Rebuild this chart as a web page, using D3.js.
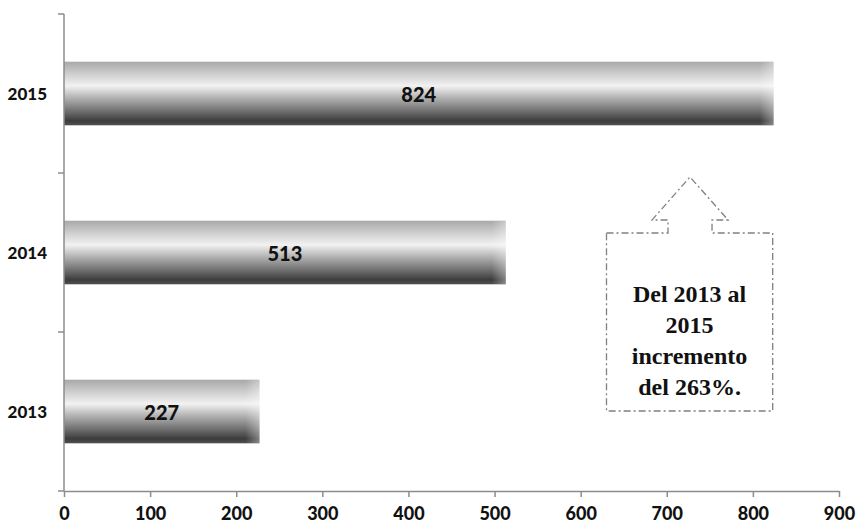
<!DOCTYPE html>
<html><head><meta charset="utf-8">
<script src="https://cdn.jsdelivr.net/npm/d3@7/dist/d3.min.js"></script>
<style>body{margin:0;background:#fff}svg{display:block}</style>
</head><body>
<svg id="c" width="859" height="524"></svg>
<script>
const categories = ["2015", "2014", "2013"];
const values = [824, 513, 227];
const xTicks = [0, 100, 200, 300, 400, 500, 600, 700, 800, 900];
const noteLines = ["Del 2013 al", "2015", "incremento", "del 263%."];

(function () {
const svg = d3.select("#c");
const pLeft = 64, pRight = 839, pTop = 14, pBottom = 491;
const x = d3.scaleLinear().domain([0, 900]).range([pLeft, pRight]);
const y = d3.scaleBand().domain(categories).range([pTop, pBottom]).paddingInner(0.6).paddingOuter(0.3);

const defs = svg.append("defs");
const g = defs.append("linearGradient").attr("id", "bg").attr("x1", 0).attr("y1", 0).attr("x2", 0).attr("y2", 1);
[[0, "#a8a8a8"], [0.12, "#c0c0c0"], [0.38, "#f2f2f2"], [0.55, "#b8b8b8"], [0.8, "#686868"], [0.93, "#3c3c3c"], [1, "#505050"]]
  .forEach(([o, c]) => g.append("stop").attr("offset", o).attr("stop-color", c));
const gh = defs.append("linearGradient").attr("id", "edge").attr("x1", 0).attr("y1", 0).attr("x2", 1).attr("y2", 0);
gh.append("stop").attr("offset", 0).attr("stop-color", "#fff").attr("stop-opacity", 0);
gh.append("stop").attr("offset", 1).attr("stop-color", "#fff").attr("stop-opacity", 0.35);

const font = "Lato, 'Open Sans', sans-serif";
// bars
const bars = svg.append("g");
categories.forEach((c, i) => {
  bars.append("rect").attr("x", x(0)).attr("y", y(c)).attr("width", x(values[i]) - x(0))
    .attr("height", y.bandwidth()).attr("fill", "url(#bg)");
  bars.append("rect").attr("x", x(values[i]) - 14).attr("y", y(c)).attr("width", 14)
    .attr("height", y.bandwidth()).attr("fill", "url(#edge)");
  bars.append("text").attr("x", (x(0) + x(values[i])) / 2).attr("y", y(c) + y.bandwidth() / 2)
    .attr("text-anchor", "middle").attr("dominant-baseline", "central")
    .attr("font-family", font).attr("font-weight", 900)
    .attr("font-size", 20).attr("fill", "#111").text(values[i]);
});

// axes
const xAxis = d3.axisBottom(x).tickValues(xTicks).tickSizeOuter(0).tickSizeInner(6).tickPadding(10);
const xa = svg.append("g").attr("transform", `translate(0,${pBottom})`).call(xAxis);
xa.selectAll("path,line").attr("stroke", "#8c8c8c").attr("stroke-width", 1.5);
xa.selectAll("text").attr("font-family", font).attr("font-weight", 900)
  .attr("font-size", 18).attr("fill", "#111");

const ya = svg.append("g");
ya.append("line").attr("x1", pLeft).attr("x2", pLeft).attr("y1", pTop).attr("y2", pBottom)
  .attr("stroke", "#8c8c8c").attr("stroke-width", 1.5);
const bounds = [pTop].concat(categories.map(c => y(c) + y.bandwidth() + y.step() * 0.3));
bounds.forEach(b => ya.append("line").attr("x1", pLeft - 6).attr("x2", pLeft).attr("y1", b).attr("y2", b)
  .attr("stroke", "#8c8c8c").attr("stroke-width", 1.5));
categories.forEach(c => ya.append("text").attr("x", pLeft - 17).attr("y", y(c) + y.bandwidth() / 2)
  .attr("text-anchor", "end").attr("dominant-baseline", "central")
  .attr("font-family", font).attr("font-weight", 900)
  .attr("font-size", 17).attr("fill", "#111").text(c));

// callout
const bx0 = x(630), bx1 = x(823), by0 = 233, by1 = 411, cx = x(727);
const path = d3.path();
path.moveTo(bx0, by0);
path.lineTo(cx - 22, by0); path.lineTo(cx - 22, 220); path.lineTo(cx - 38, 220);
path.lineTo(cx, 177);
path.lineTo(cx + 38, 220); path.lineTo(cx + 22, 220); path.lineTo(cx + 22, by0);
path.lineTo(bx1, by0); path.lineTo(bx1, by1); path.lineTo(bx0, by1); path.closePath();
svg.append("path").attr("d", path.toString()).attr("fill", "#fff").attr("stroke", "#808080")
  .attr("stroke-width", 1.3).attr("stroke-dasharray", "7,3,2,3");
const nt = svg.append("text").attr("text-anchor", "middle")
  .attr("font-family", "'Liberation Serif', 'DejaVu Serif', serif").attr("font-weight", "bold")
  .attr("font-size", 24).attr("fill", "#111");
noteLines.forEach((l, i) => nt.append("tspan").attr("x", (bx0 + bx1) / 2).attr("y", 302 + i * 31).text(l));
})();
</script>
</body></html>
